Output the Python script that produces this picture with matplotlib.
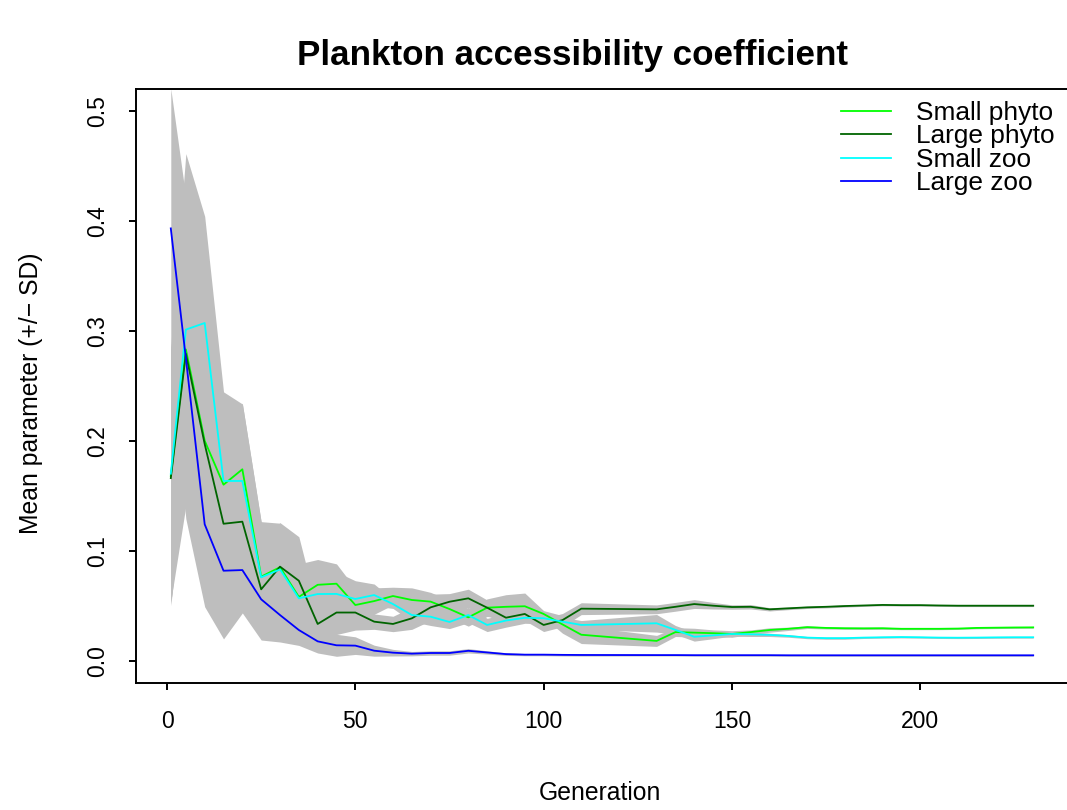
import matplotlib
matplotlib.use("Agg")
import matplotlib.pyplot as plt
import numpy as np

plt.rcParams['font.family'] = ['Liberation Sans', 'DejaVu Sans']

generation = [1, 5, 10, 15, 20, 25, 30, 35, 40, 45, 50, 55, 60, 65, 70, 75, 80, 85, 90, 95,
              100, 105, 110, 130, 135, 140, 145, 150, 155, 160, 165, 170, 175, 180, 185, 190,
              195, 200, 205, 210, 215, 220, 225, 230]

small_phyto = [0.168, 0.283, 0.200, 0.160, 0.174, 0.0764, 0.085, 0.058, 0.069, 0.070, 0.0506,
               0.0542, 0.0588, 0.0552, 0.0537, 0.047, 0.0394, 0.0482, 0.049, 0.0495, 0.0425,
               0.033, 0.0236, 0.018, 0.026, 0.0255, 0.025, 0.0243, 0.026, 0.0279, 0.029, 0.0305,
               0.0298, 0.0295, 0.0294, 0.0295, 0.029, 0.029, 0.029, 0.0292, 0.0298, 0.030,
               0.0302, 0.0303]
small_phyto_sd = [0.116, 0.10, 0.05, 0.05, 0.06, 0.05, 0.04, 0.03, 0.023, 0.018, 0.015, 0.012,
                  0.008, 0.011, 0.0084, 0.008, 0.008, 0.008, 0.011, 0.012, 0.003, 0.008, 0.008,
                  0.005, 0.004, 0.004, 0.003, 0.003, 0.002, 0.002, 0.0015, 0.0012, 0.001, 0.001,
                  0.001, 0.001, 0.0008, 0.0008, 0.0008, 0.0008, 0.0008, 0.0008, 0.0008, 0.0008]

large_phyto = [0.166, 0.279, 0.197, 0.1245, 0.1264, 0.0649, 0.0855, 0.0727, 0.0334, 0.0438,
               0.0438, 0.0355, 0.0334, 0.0385, 0.0485, 0.0536, 0.0567, 0.0482, 0.0391, 0.0425,
               0.0325, 0.0369, 0.0473, 0.0467, 0.049, 0.0515, 0.050, 0.0488, 0.049, 0.0467,
               0.0476, 0.0485, 0.049, 0.0497, 0.0502, 0.0507, 0.0505, 0.0505, 0.0502, 0.050,
               0.050, 0.050, 0.050, 0.050]
large_phyto_sd = [0.116, 0.10, 0.05, 0.06, 0.05, 0.045, 0.04, 0.04, 0.012, 0.020, 0.016, 0.007,
                  0.007, 0.010, 0.012, 0.0074, 0.0083, 0.007, 0.006, 0.006, 0.006, 0.006, 0.0054,
                  0.004, 0.004, 0.004, 0.003, 0.002, 0.002, 0.0015, 0.0012, 0.001, 0.001, 0.001,
                  0.0008, 0.0008, 0.0008, 0.0008, 0.0008, 0.0008, 0.0008, 0.0008, 0.0008, 0.0008]

small_zoo = [0.170, 0.301, 0.307, 0.1634, 0.1634, 0.0758, 0.083, 0.0567, 0.0606, 0.0607, 0.0561,
             0.0597, 0.0515, 0.0415, 0.040, 0.0352, 0.0415, 0.0325, 0.0365, 0.039, 0.0386,
             0.0355, 0.0325, 0.034, 0.028, 0.0218, 0.023, 0.0243, 0.024, 0.0235, 0.0225, 0.021,
             0.0205, 0.0205, 0.021, 0.0213, 0.0215, 0.0213, 0.021, 0.0209, 0.021, 0.0212,
             0.0213, 0.0213]
small_zoo_sd = [0.116, 0.16, 0.097, 0.081, 0.07, 0.05, 0.04, 0.03, 0.02, 0.02, 0.0166, 0.01,
                0.004, 0.006, 0.008, 0.006, 0.007, 0.006, 0.006, 0.005, 0.005, 0.004, 0.004,
                0.008, 0.004, 0.004, 0.003, 0.002, 0.002, 0.0015, 0.0012, 0.001, 0.001, 0.001,
                0.0008, 0.0008, 0.0008, 0.0008, 0.0008, 0.0008, 0.0008, 0.0008, 0.0008, 0.0008]

large_zoo = [0.393, 0.275, 0.124, 0.0818, 0.0824, 0.0558, 0.0415, 0.0279, 0.0176, 0.014, 0.0137,
             0.0091, 0.0073, 0.0064, 0.007, 0.007, 0.009, 0.0075, 0.006, 0.0055, 0.0055, 0.0053,
             0.0052, 0.0051, 0.0051, 0.005, 0.005, 0.005, 0.005, 0.005, 0.0049, 0.0049, 0.0049,
             0.0049, 0.0049, 0.0049, 0.0049, 0.0049, 0.0049, 0.0049, 0.0049, 0.0049, 0.0049,
             0.0049]
large_zoo_sd = [0.127, 0.146, 0.075, 0.062, 0.039, 0.037, 0.0245, 0.014, 0.0106, 0.010, 0.008,
                0.005, 0.003, 0.002, 0.002, 0.002, 0.002, 0.0015, 0.0012, 0.001, 0.001, 0.001,
                0.001, 0.0008, 0.0008, 0.0008, 0.0008, 0.0008, 0.0008, 0.0008, 0.0008, 0.0008,
                0.0008, 0.0008, 0.0008, 0.0008, 0.0008, 0.0008, 0.0008, 0.0008, 0.0008, 0.0008,
                0.0008, 0.0008]

series_names = ["Small phyto", "Large phyto", "Small zoo", "Large zoo"]
series_colors = ["#00FF00", "#006400", "#00FFFF", "#0000FF"]
means = [small_phyto, large_phyto, small_zoo, large_zoo]
sds = [small_phyto_sd, large_phyto_sd, small_zoo_sd, large_zoo_sd]

x_ticks = [0, 50, 100, 150, 200]
y_ticks = [0.0, 0.1, 0.2, 0.3, 0.4, 0.5]

W, H = 1067, 810
fig = plt.figure(figsize=(W / 100, H / 100), dpi=100)
left_px, right_px, top_px, bot_px = 136.3, 1067.7, 88.7, 682.7
ax = fig.add_axes([left_px / W, 1 - bot_px / H, (right_px - left_px) / W, (bot_px - top_px) / H])

x = np.array(generation, dtype=float)
for m, s in zip(means, sds):
    m = np.array(m); s = np.array(s)
    ax.fill_between(x, m - s, m + s, color="#BEBEBE", linewidth=0, zorder=1)

for m, c, name in zip(means, series_colors, series_names):
    ax.plot(x, m, color=c, linewidth=1.3, label=name, zorder=3)

ax.set_xlim(1 - 0.04 * 229, 230 + 0.04 * 229)
ax.set_ylim(-0.02, 0.52)
ax.set_xticks(x_ticks)
ax.set_xticklabels([str(t) for t in x_ticks])
ax.set_yticks(y_ticks)
ax.set_yticklabels([f"{t:.1f}" for t in y_ticks])

for sp in ["left", "bottom", "top"]:
    ax.spines[sp].set_linewidth(1.4)
    ax.spines[sp].set_color("black")
ax.spines["right"].set_visible(False)

ax.tick_params(axis="both", direction="out", length=5, width=1.4, labelsize=16.5, colors="black")
ax.tick_params(axis="x", pad=14.3)
ax.tick_params(axis="y", pad=23)
for lab in ax.get_yticklabels():
    lab.set_rotation(90)
    lab.set_ha("center")
    lab.set_va("center")

fig.text(572.5 / W, 1 - 65 / H, "Plankton accessibility coefficient", ha="center", va="baseline",
         fontsize=25.2, fontweight="bold")
fig.text(600 / W, 1 - 800 / H, "Generation", ha="center", va="baseline", fontsize=17.8)
fig.text(38.3 / W, 1 - 393 / H, "Mean parameter (+/\u2212 SD)", ha="center", va="baseline",
         rotation=90, rotation_mode="anchor", fontsize=17.8)

leg = ax.legend(loc="upper left", bbox_to_anchor=(841 / W, 1 - 101 / H), bbox_transform=fig.transFigure,
                frameon=False, borderpad=0, borderaxespad=0, handlelength=1.91, handletextpad=0.94,
                labelspacing=-0.02, fontsize=18.9)

fig.savefig("out.png", dpi=100)
